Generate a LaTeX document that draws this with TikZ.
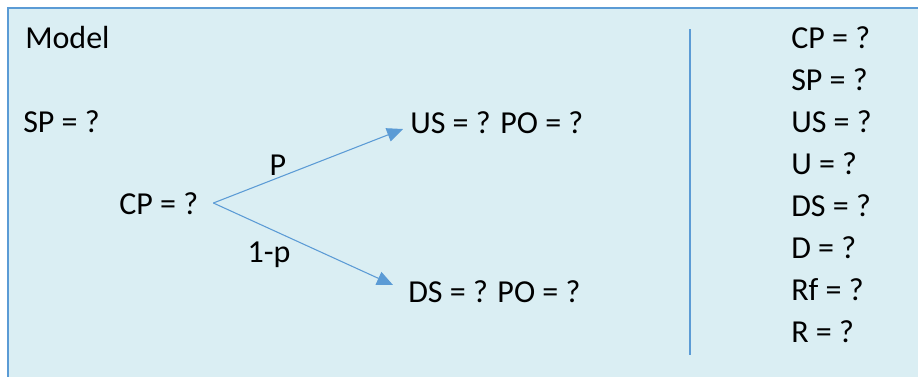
\documentclass[tikz,border=0pt]{standalone}
\usepackage{fontspec}
\setmainfont{Carlito}
\usetikzlibrary{arrows.meta}
\definecolor{PanelBlue}{RGB}{218,238,243}
\definecolor{EdgeBlue}{RGB}{91,155,213}
\tikzset{
  vartext/.style={anchor=base west,inner sep=0pt,font=\fontsize{24}{28}\selectfont},
  problabel/.style={anchor=base,inner sep=0pt,font=\fontsize{24}{28}\selectfont},
  branch/.style={-{Triangle[length=12pt,width=10.5pt]},EdgeBlue,line width=0.8pt}
}
\begin{document}
\begin{tikzpicture}[x=0.75pt,y=-0.75pt]
  \clip (0,0) rectangle (918,376);
  % panel
  \draw[EdgeBlue,line width=1pt,fill=PanelBlue] (8,8) rectangle (940,400);

  % tree on the left
  \node[vartext] (model) at (25,48) {Model};
  \node[vartext] (sp) at (23,132) {SP = ?};
  \node[vartext] (cp) at (119,214) {CP = ?};
  \node[vartext] (us) at (410,133) {US = ? PO = ?};
  \node[vartext] (ds) at (408,302) {DS = ? PO = ?};
  \draw[branch] ([shift={(15,-11)}]cp.base east) -- ([shift={(-7,-4)}]us.base west);
  \draw[branch] ([shift={(15,-11)}]cp.base east) -- ([shift={(-15,-17)}]ds.base west);
  \node[problabel] (up) at (278,175) {P};
  \node[problabel] (down) at (269,262) {1-p};

  % divider
  \draw[EdgeBlue,line width=0.9pt] (690,29) -- (690,355);

  % list of values on the right
  \foreach \name [count=\i] in {CP,SP,US,U,DS,D,Rf,R}
    \node[vartext] (val\i) at (791,48+42*\i-42) {\name{} = ?};
\end{tikzpicture}
\end{document}
